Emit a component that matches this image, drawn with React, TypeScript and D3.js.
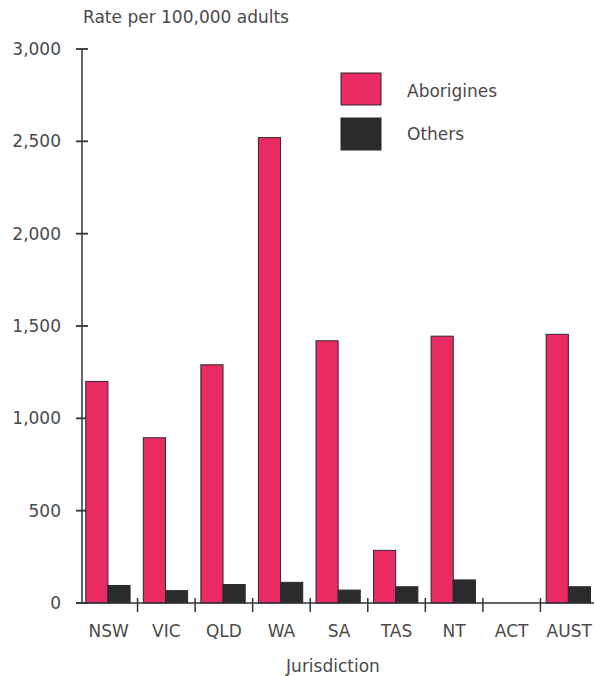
import React from "react";
import * as d3 from "d3";

const categories = ["NSW", "VIC", "QLD", "WA", "SA", "TAS", "NT", "ACT", "AUST"];
const series = ["Aborigines", "Others"];
const aborigines = [1200, 895, 1290, 2520, 1420, 285, 1445, 0, 1455];
const others = [95, 67, 100, 112, 70, 88, 125, 0, 88];
const yTicks = [0, 500, 1000, 1500, 2000, 2500, 3000];
const colors = ["#ea2a63", "#2b2b2b"];

const W = 594;
const H = 676;
const FONT = "DejaVu Sans, sans-serif";
const TXT = "#4a4a4a";
const AX = "#333";

export default function App() {
  const y = d3.scaleLinear().domain([0, 3000]).range([603, 49]);
  const x = d3.scaleBand<string>().domain(categories).range([80, 598]).paddingInner(0).paddingOuter(0);
  const bw = x.bandwidth();
  const inner = d3.scaleBand<string>().domain(series).range([bw * 0.1, bw * 0.87]).padding(0);
  const values = [aborigines, others];
  const fmt = d3.format(",");
  const axisX = 82;
  const baseY = y(0);

  return (
    <svg width={W} height={H} style={{ position: "absolute", left: 0, top: 0, background: "#fff" }}>
      <text x={83} y={23} fontFamily={FONT} fontSize={17} fill={TXT}>Rate per 100,000 adults</text>

      {/* y axis */}
      <line x1={axisX} x2={axisX} y1={y(3000)} y2={baseY} stroke={AX} strokeWidth={1.5} />
      {yTicks.map((t) => (
        <g key={t}>
          <line x1={axisX - 6} x2={axisX + 6} y1={y(t)} y2={y(t)} stroke={AX} strokeWidth={1.8} />
          <text x={61} y={y(t)} dy="0.36em" textAnchor="end" fontFamily={FONT} fontSize={17} fill={TXT}>
            {fmt(t)}
          </text>
        </g>
      ))}

      {/* bars */}
      {categories.map((c, i) => (
        <g key={c} transform={`translate(${x(c)},0)`}>
          {series.map((s, j) => {
            const v = values[j][i];
            if (v <= 0) return null;
            return (
              <rect
                key={s}
                x={inner(s)}
                y={y(v)}
                width={inner.bandwidth()}
                height={baseY - y(v)}
                fill={colors[j]}
                stroke="#2a2a2a"
                strokeWidth={1}
              />
            );
          })}
        </g>
      ))}

      {/* x axis */}
      <line x1={76} x2={W} y1={baseY} y2={baseY} stroke={AX} strokeWidth={1.5} />
      {categories.slice(1).map((c) => (
        <line key={c} x1={x(c)} x2={x(c)} y1={baseY - 5} y2={baseY + 9} stroke={AX} strokeWidth={1.5} />
      ))}
      {categories.map((c) => (
        <text key={c} x={(x(c) as number) + bw / 2} y={637} textAnchor="middle" fontFamily={FONT} fontSize={17} fill={TXT}>
          {c}
        </text>
      ))}
      <text x={333} y={672} textAnchor="middle" fontFamily={FONT} fontSize={17} fill={TXT}>Jurisdiction</text>

      {/* legend */}
      {series.map((s, j) => (
        <g key={s}>
          <rect x={341} y={73 + j * 45} width={40} height={32} fill={colors[j]} stroke="#2a2a2a" strokeWidth={1} />
          <text x={407} y={97 + j * 43} fontFamily={FONT} fontSize={17} fill={TXT}>{s}</text>
        </g>
      ))}
    </svg>
  );
}
